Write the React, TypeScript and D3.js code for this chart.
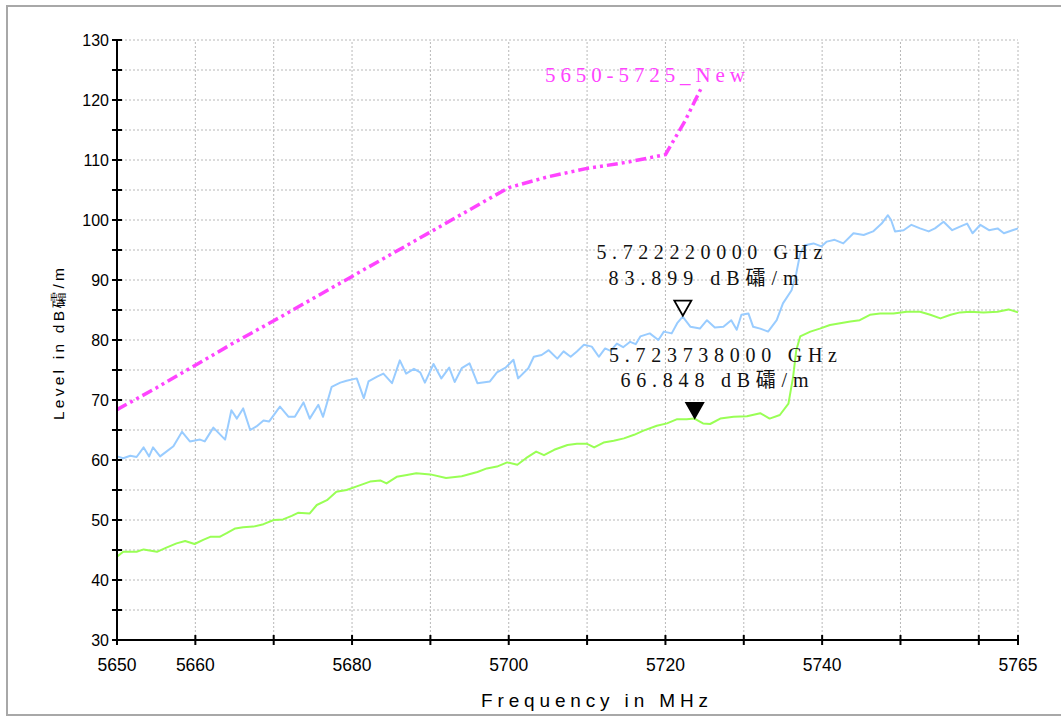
import React from "react";
import * as d3 from "d3";

const xTicks = [5650, 5660, 5670, 5680, 5690, 5700, 5710, 5720, 5730, 5740, 5750, 5760, 5765];
const xLabels = [5650, 5660, 5680, 5700, 5720, 5740, 5765];
const yTicks = [30, 35, 40, 45, 50, 55, 60, 65, 70, 75, 80, 85, 90, 95, 100, 105, 110, 115, 120, 125, 130];
const yLabels = [30, 40, 50, 60, 70, 80, 90, 100, 110, 120, 130];

const limitLine: [number, number][] = [
  [5650, 68.4], [5655, 72.0], [5660, 75.8], [5665, 79.6], [5670, 83.2], [5675, 86.9],
  [5680, 90.6], [5685, 94.3], [5690, 98.0], [5695, 101.7], [5700, 105.4], [5705, 107.2],
  [5710, 108.6], [5715, 109.6], [5720, 110.9], [5722.5, 116.5], [5724.5, 121.8],
];

const peakTrace: [number, number][] = [
  [5650, 60.6], [5650.8, 60.3], [5651.7, 60.7], [5652.5, 60.5], [5653.4, 62.1], [5654.1, 60.6],
  [5654.6, 62.1], [5655.5, 60.6], [5656.3, 61.4], [5657.2, 62.3], [5658.3, 64.7], [5659.3, 63.1],
  [5660.6, 63.4], [5661.2, 63.1], [5662.3, 65.4], [5663.8, 63.4], [5664.6, 68.3], [5665.3, 66.9],
  [5666.1, 68.6], [5667, 65.0], [5667.8, 65.6], [5668.7, 66.6], [5669.4, 66.4], [5670.8, 68.9],
  [5671.9, 67.2], [5672.7, 67.2], [5673.8, 69.6], [5674.6, 66.9], [5675.7, 69.2], [5676.3, 67.2],
  [5677.4, 72.2], [5678.5, 72.9], [5679.3, 73.2], [5680.6, 73.6], [5681.5, 70.3], [5682.1, 73.1],
  [5683.2, 73.9], [5684, 74.4], [5685.1, 72.8], [5686.1, 76.6], [5686.9, 74.4], [5687.9, 75.2],
  [5688.7, 74.6], [5689.3, 72.9], [5690.4, 76.0], [5691.4, 73.6], [5692.4, 75.4], [5693.1, 73.0],
  [5694.0, 75.3], [5695.0, 76.1], [5696.0, 72.8], [5697.6, 73.1], [5698.5, 74.6], [5699.6, 75.4],
  [5700.6, 76.7], [5701.2, 73.6], [5702.5, 75.3], [5703.2, 77.2], [5704.2, 77.5], [5705.1, 78.3],
  [5706.2, 76.9], [5707.0, 78.1], [5707.9, 77.2], [5708.7, 78.1], [5709.6, 79.2], [5710.6, 78.9],
  [5711.5, 77.2], [5712.3, 78.6], [5713.0, 78.2], [5713.8, 79.4], [5714.6, 78.8], [5715.5, 79.7],
  [5716.2, 79.3], [5716.8, 80.6], [5718.0, 81.1], [5719.1, 80.0], [5719.8, 81.4], [5720.8, 81.1],
  [5721.5, 82.8], [5722.2, 83.9], [5723.2, 82.2], [5724.4, 81.9], [5725.3, 83.3], [5726.3, 82.1],
  [5727.4, 82.2], [5728.4, 83.3], [5729.1, 81.7], [5729.7, 84.2], [5730.6, 84.4], [5731.2, 82.2],
  [5732.1, 81.9], [5733.1, 81.4], [5734.2, 83.3], [5735.0, 86.1], [5736.1, 88.3], [5736.7, 91.1],
  [5737.2, 94.4], [5737.8, 95.8], [5738.9, 96.1], [5739.9, 95.6], [5740.6, 96.4], [5741.6, 96.7],
  [5742.7, 96.1], [5744.0, 97.8], [5745.3, 97.5], [5746.5, 98.1], [5747.6, 99.4], [5748.4, 100.8],
  [5748.8, 100.0], [5749.3, 98.1], [5750.4, 98.3], [5751.4, 99.2], [5752.5, 98.6], [5753.6, 98.1],
  [5754.4, 98.6], [5755.5, 99.7], [5756.6, 98.3], [5757.6, 98.9], [5758.5, 99.4], [5759.2, 97.8],
  [5760.2, 99.2], [5761.3, 98.3], [5762.4, 98.6], [5763.2, 97.8], [5764.3, 98.3], [5765, 98.6],
];

const avgTrace: [number, number][] = [
  [5650, 43.9], [5650.8, 44.7], [5652.5, 44.7], [5653.4, 45.1], [5655.1, 44.7], [5656.3, 45.4],
  [5657.6, 46.1], [5658.7, 46.5], [5659.9, 46.0], [5661, 46.7], [5661.9, 47.2], [5663.1, 47.2],
  [5664, 47.8], [5665.1, 48.6], [5666.1, 48.8], [5667.4, 48.9], [5668.7, 49.3], [5670, 50.0],
  [5671.2, 50.1], [5672.3, 50.7], [5673.1, 51.2], [5674.6, 51.1], [5675.5, 52.5], [5676.8, 53.3],
  [5678, 54.7], [5679.3, 55.0], [5680.6, 55.6], [5682.3, 56.4], [5683.6, 56.6], [5684.4, 56.1],
  [5685.7, 57.2], [5687, 57.5], [5688.2, 57.8], [5690, 57.6], [5692, 57.0], [5694, 57.3],
  [5696, 58.0], [5697.2, 58.6], [5698.5, 58.9], [5699.8, 59.6], [5701.1, 59.2], [5702.2, 60.3],
  [5703.5, 61.4], [5704.5, 60.8], [5705.8, 61.7], [5707.5, 62.5], [5708.7, 62.7], [5710, 62.7],
  [5710.9, 62.1], [5712.1, 62.9], [5713.4, 63.2], [5714.7, 63.6], [5716, 64.2], [5717.2, 64.9],
  [5718.9, 65.7], [5720.2, 66.1], [5721.5, 66.8], [5722.7, 66.8], [5723.7, 66.9], [5724.8, 66.1],
  [5725.7, 66.0], [5727, 66.9], [5728.7, 67.2], [5730.4, 67.3], [5732.1, 67.8], [5733.3, 66.9],
  [5734.6, 67.5], [5735.7, 69.4], [5736.3, 73.9], [5736.7, 78.3], [5737.2, 80.6], [5738.5, 81.4],
  [5739.7, 81.9], [5741, 82.5], [5742.3, 82.8], [5743.6, 83.1], [5744.8, 83.3], [5746.1, 84.2],
  [5747.4, 84.4], [5749.1, 84.4], [5750.8, 84.7], [5752.5, 84.7], [5753.8, 84.2], [5755.1, 83.6],
  [5756.4, 84.2], [5757.6, 84.6], [5758.9, 84.7], [5760.6, 84.6], [5762.4, 84.7], [5763.8, 85.1],
  [5765, 84.6],
];

const markers = [
  { freq: 5722.222, level: 83.899, line1: "5.722220000 GHz", line2: "83.899 dB礵/m", filled: false },
  { freq: 5723.738, level: 66.848, line1: "5.723738000 GHz", line2: "66.848 dB礵/m", filled: true },
];

const limitLabel = "5650-5725_New";

export default function App() {
  const W = 1061;
  const H = 716;
  const x = d3.scaleLinear().domain([5650, 5765]).range([117, 1018]);
  const y = d3.scaleLinear().domain([30, 130]).range([640, 40]);
  const line = d3
    .line<[number, number]>()
    .x((d) => x(d[0]))
    .y((d) => y(d[1]));

  const sans = "'Liberation Sans', Arial, sans-serif";
  const serif = "'Liberation Serif', 'DejaVu Serif', 'Noto Sans CJK SC', serif";

  const mText = [
    { l1x: 596.5, l1y: 259, l1w: 226, l2x: 608.5, l2y: 285, l2w: 190 },
    { l1x: 609, l1y: 361.5, l1w: 228, l2x: 620.5, l2y: 387, l2w: 188 },
  ];

  return (
    <svg
      width={W}
      height={H}
      style={{ position: "absolute", left: 0, top: 0, background: "#fff" }}
    >
      <rect x={0} y={0} width={W} height={H} fill="#fff" />
      <rect x={7} y={6} width={1070} height={709} fill="#fff" stroke="#a8a8a8" strokeWidth={2} />

      {/* grid */}
      <g stroke="#b8b8b8" strokeWidth={1} strokeDasharray="2,2">
        {yTicks.filter((t) => t > 30).map((t) => (
          <line key={"gy" + t} x1={x(5650)} x2={x(5765)} y1={y(t)} y2={y(t)} />
        ))}
        {xTicks.filter((t) => t > 5650).map((t) => (
          <line key={"gx" + t} x1={x(t)} x2={x(t)} y1={y(30)} y2={y(130)} />
        ))}
      </g>

      {/* traces */}
      <path d={line(peakTrace) || ""} fill="none" stroke="#99ccff" strokeWidth={2} strokeLinejoin="round" />
      <path d={line(avgTrace) || ""} fill="none" stroke="#99ff55" strokeWidth={2} strokeLinejoin="round" />
      <path
        d={line(limitLine) || ""}
        fill="none"
        stroke="#ff44ff"
        strokeWidth={3.5}
        strokeDasharray="11,4,3,4,3,4"
      />

      {/* axes */}
      <g stroke="#000">
        <line x1={x(5650)} x2={x(5650)} y1={y(30) + 1} y2={y(130)} strokeWidth={2} />
        <line x1={x(5650) - 1} x2={x(5765)} y1={y(30)} y2={y(30)} strokeWidth={2} />
        {yTicks.map((t) => (
          <line key={"ty" + t} x1={x(5650) - 5} x2={x(5650) + 5} y1={y(t)} y2={y(t)} strokeWidth={2} />
        ))}
        {xTicks.map((t) => (
          <line key={"tx" + t} x1={x(t)} x2={x(t)} y1={y(30) - 5} y2={y(30) + 5} strokeWidth={2} />
        ))}
      </g>
      <g fontFamily={sans} fontSize={16} fill="#000" textAnchor="end">
        {yLabels.map((t) => (
          <text key={"ly" + t} x={x(5650) - 8} y={y(t) + 6}>
            {t}
          </text>
        ))}
      </g>
      <g fontFamily={sans} fontSize={17.5} fill="#000" textAnchor="middle">
        {xLabels.map((t) => (
          <text key={"lx" + t} x={x(t)} y={671}>
            {t}
          </text>
        ))}
      </g>

      {/* axis titles */}
      <text
        x={481}
        y={707}
        fontFamily={sans}
        fontSize={19}
        textLength={227}
        lengthAdjust="spacing"
        fill="#000"
      >
        Frequency in MHz
      </text>
      <text
        transform={`translate(64,420) rotate(-90)`}
        fontFamily={sans}
        fontSize={15.5}
        textLength={152}
        lengthAdjust="spacing"
        fill="#000"
      >
        Level in dB礵/m
      </text>

      {/* limit label */}
      <text
        x={545}
        y={82}
        fontFamily={serif}
        fontSize={21}
        textLength={200}
        lengthAdjust="spacing"
        fill="#ff44ff"
      >
        {limitLabel}
      </text>

      {/* markers */}
      {markers.map((m, i) => {
        const tx = x(m.freq);
        const ty = y(m.level) - 1;
        const pts = `${tx - 8.5},${ty - 15} ${tx + 8.5},${ty - 15} ${tx},${ty}`;
        const t = mText[i];
        return (
          <g key={"m" + i}>
            <polygon
              points={pts}
              fill={m.filled ? "#000" : "#fff"}
              stroke="#000"
              strokeWidth={1.8}
              strokeLinejoin="miter"
            />
            <text
              x={t.l1x}
              y={t.l1y}
              fontFamily={serif}
              fontSize={20}
              textLength={t.l1w}
              lengthAdjust="spacing"
              fill="#111"
            >
              {m.line1}
            </text>
            <text
              x={t.l2x}
              y={t.l2y}
              fontFamily={serif}
              fontSize={20}
              textLength={t.l2w}
              lengthAdjust="spacing"
              fill="#111"
            >
              {m.line2}
            </text>
          </g>
        );
      })}
    </svg>
  );
}
